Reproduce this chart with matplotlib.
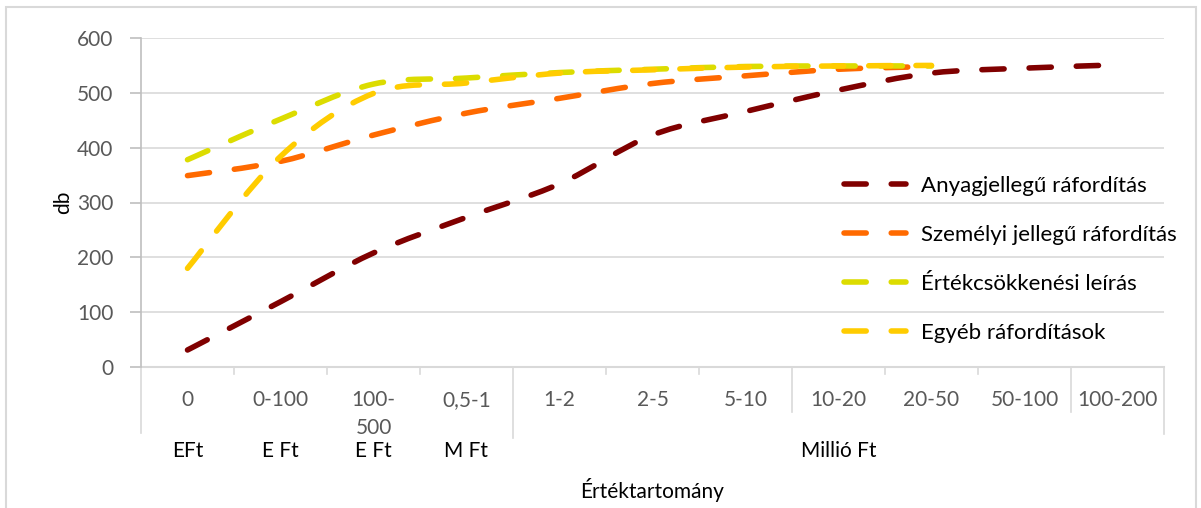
import numpy as np
import matplotlib
matplotlib.use("Agg")
import matplotlib.pyplot as plt
from matplotlib.path import Path
from matplotlib.patches import PathPatch, Rectangle
from matplotlib.lines import Line2D
import matplotlib.transforms as mtransforms

# Category labels (two levels)
categories = ["0", "0-100", "100-\n500", "0,5-1", "1-2", "2-5", "5-10",
              "10-20", "20-50", "50-100", "100-200"]
group_labels = ["EFt", "E Ft", "E Ft", "M Ft", "Millió Ft"]
group_spans = [(0, 0), (1, 1), (2, 2), (3, 3), (4, 10)]

# Series values (db)
anyag = [31, 119, 208, 273, 334, 423, 466, 505, 536, 545, 551]
szemelyi = [349, 375, 423, 463, 490, 517, 531, 543, 548]
ertekcs = [378, 452, 516, 527, 537, 543, 548, 549, 549]
egyeb = [180, 384, 499, 518, 536, 542, 547, 549, 550]

series_names = ["Anyagjellegű ráfordítás", "Személyi jellegű ráfordítás",
                "Értékcsökkenési leírás", "Egyéb ráfordítások"]
series_colors = ["#800000", "#FF6A00", "#DCDC00", "#FFCC00"]

W, H = 1201, 508
plt.rcParams['font.family'] = ['Lato', 'DejaVu Sans']
FS = 15
LEG_FS = 16
TICK_GREY = "#595959"
GRID_GREY = "#D9D9D9"
AXIS_GREY = "#BFBFBF"
DASH = (0, (4, 4.5))


def smooth_path(xs, ys):
    # Excel style smoothed line: cubic bezier segments through the points
    pts = np.column_stack([xs, ys]).astype(float)
    n = len(pts)
    verts = [pts[0]]
    codes = [Path.MOVETO]
    for i in range(n - 1):
        p_prev = pts[i - 1] if i > 0 else pts[i]
        p_next2 = pts[i + 2] if i + 2 < n else pts[i + 1]
        c1 = pts[i] + (pts[i + 1] - p_prev) / 6.0
        c2 = pts[i + 1] - (p_next2 - pts[i]) / 6.0
        verts += [c1, c2, pts[i + 1]]
        codes += [Path.CURVE4] * 3
    return Path(verts, codes)


def fy(py):
    # pixel row (from top) -> figure fraction
    return 1 - py / H


def fx(px):
    return px / W


fig = plt.figure(figsize=(W / 100, H / 100), dpi=100)
ax = fig.add_axes([fx(141), fy(367), fx(1164) - fx(141), fy(38) - fy(367)])

# chart border
fig.patches.append(Rectangle((fx(6), fy(520)), fx(1196) - fx(6), fy(7) - fy(520),
                             transform=fig.transFigure, fill=False,
                             edgecolor=GRID_GREY, linewidth=1.5))

ax.set_xlim(-0.5, len(categories) - 0.5)
ax.set_ylim(0, 600)
ax.set_yticks(range(0, 601, 100))
ax.yaxis.grid(True, color=GRID_GREY, linewidth=1.2)
ax.set_axisbelow(True)
for s in ["top", "right", "bottom"]:
    ax.spines[s].set_visible(False)
ax.spines["left"].set_color(AXIS_GREY)
ax.spines["left"].set_linewidth(1.2)
ax.tick_params(axis="y", colors=AXIS_GREY, labelcolor=TICK_GREY,
               labelsize=FS, length=8, width=1.2, pad=12)
ax.set_xticks([])
ax.set_ylabel("db", fontsize=FS, labelpad=3)

# lines
all_series = [anyag, szemelyi, ertekcs, egyeb]
handles = []
for vals, name, col in zip(all_series, series_names, series_colors):
    xs = np.arange(len(vals))
    patch = PathPatch(smooth_path(xs, vals), fill=False, edgecolor=col,
                      linewidth=4, linestyle=DASH, capstyle="round", zorder=3)
    ax.add_patch(patch)
    handles.append(Line2D([], [], color=col, linewidth=4, linestyle=DASH,
                          dash_capstyle="round", label=name))

# category axis: x in data, y in figure fraction
trans = mtransforms.blended_transform_factory(ax.transData, fig.transFigure)
ax.plot([-0.5, len(categories) - 0.5], [fy(367), fy(367)], color=GRID_GREY,
        linewidth=1.5, transform=trans, clip_on=False, zorder=2)
long_bounds = {-0.5: 433, 3.5: 438, 6.5: 412, 9.5: 412, 10.5: 434}
for b in np.arange(-0.5, len(categories), 1.0):
    end = long_bounds.get(b, 374)
    ax.plot([b, b], [fy(367), fy(end)], color=GRID_GREY, linewidth=1.2,
            transform=trans, clip_on=False)

for i, lab in enumerate(categories):
    ax.text(i, fy(390), lab, transform=trans, ha="center", va="top",
            fontsize=FS, color=TICK_GREY, linespacing=1.5)

for lab, (a, b) in zip(group_labels, group_spans):
    ax.text((a + b) / 2, fy(451), lab, transform=trans, ha="center",
            va="center", fontsize=FS, color="black")

fig.text(fx(652), fy(490), "Értéktartomány", ha="center", va="center",
         fontsize=FS, color="black")

leg = fig.legend(handles=handles, loc="upper left",
                 bbox_to_anchor=(fx(844), fy(176)), frameon=False,
                 fontsize=LEG_FS, handlelength=2.8, handletextpad=0.68,
                 labelspacing=1.3, borderpad=0, borderaxespad=0)

fig.savefig("out.png", dpi=100)
